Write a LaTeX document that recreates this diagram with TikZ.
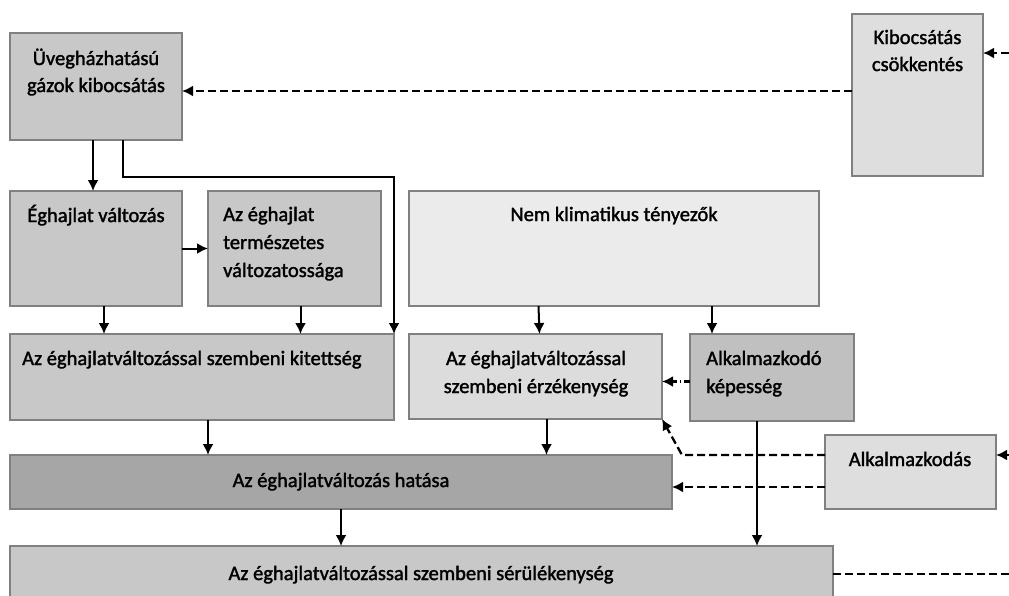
\documentclass[tikz,border=0pt]{standalone}
\usepackage{fontspec}
\setmainfont{Carlito}
\newfontfamily\diagfont{Carlito}[FakeBold=1.6]
\usetikzlibrary{arrows.meta,calc}
\definecolor{boxline}{RGB}{128,128,128}
\definecolor{gA}{RGB}{200,200,200}
\definecolor{gB}{RGB}{222,222,222}
\definecolor{gC}{RGB}{235,235,235}
\definecolor{gD}{RGB}{220,220,220}
\definecolor{gE}{RGB}{192,192,192}
\definecolor{gF}{RGB}{166,166,166}
\tikzset{
  box/.style={rectangle, draw=boxline, line width=1.8pt, inner sep=0pt, outer sep=0pt, anchor=north west},
  txt/.style={font=\diagfont\fontsize{20.5}{28}\selectfont, inner sep=0pt, anchor=base},
  ltxt/.style={txt, anchor=base west},
  arr/.style={line width=2pt, -{Latex[length=11pt,width=11pt]}},
  darr/.style={line width=2.3pt, dash pattern=on 8pt off 4pt, -{Latex[length=11pt,width=11pt]}},
  ddarr/.style={line width=2.3pt, dash pattern=on 6pt off 3pt on 1.5pt off 3pt, -{Latex[length=11pt,width=11pt]}},
  dline/.style={line width=2.3pt, dash pattern=on 8pt off 4pt},
}
\begin{document}
\begin{tikzpicture}[x=1pt, y=-1pt]
\useasboundingbox (0,0) rectangle (1009,595);
\clip (0,0) rectangle (1009,595);

% boxes
\node[box, fill=gA, minimum width=172pt, minimum height=107pt] (uveg) at (10,33) {};
\node[box, fill=gB, minimum width=131pt, minimum height=162pt] (kib) at (852,14) {};
\node[box, fill=gA, minimum width=172pt, minimum height=115pt] (valt) at (10,191) {};
\node[box, fill=gA, minimum width=173pt, minimum height=115pt] (term) at (208,191) {};
\node[box, fill=gC, minimum width=410pt, minimum height=115pt] (nem) at (409,191) {};
\node[box, fill=gA, minimum width=384pt, minimum height=86pt] (kit) at (10,334) {};
\node[box, fill=gD, minimum width=253pt, minimum height=85pt] (erz) at (409,334) {};
\node[box, fill=gE, minimum width=164pt, minimum height=87pt] (kep) at (690,334) {};
\node[box, fill=gB, minimum width=171pt, minimum height=74pt] (alk) at (825,435) {};
\node[box, fill=gF, minimum width=662pt, minimum height=54pt] (hat) at (10,455) {};
\node[box, fill=gA, minimum width=823pt, minimum height=70pt] (bot) at (10,546) {};

% texts
\node[txt] (uveg1) at (96,65) {Üvegházhatású};
\node[txt] (uveg2) at (96,92) {gázok kibocsátás};
\node[txt] (kib1) at (917.5,44) {Kibocsátás};
\node[txt] (kib2) at (917.5,71) {csökkentés};
\node[txt] (valt1) at (96,222) {Éghajlat változás};
\node[ltxt] (term1) at (223,221) {Az éghajlat};
\node[ltxt] (term2) at (223,249) {természetes};
\node[ltxt] (term3) at (223,277) {változatossága};
\node[txt] (nem1) at (614,221) {Nem klimatikus tényezők};
\node[ltxt] (kit1) at (22,365) {Az éghajlatváltozással szembeni kitettség};
\node[txt] (erz1) at (536,365) {Az éghajlatváltozással};
\node[txt] (erz2) at (536,393) {szembeni érzékenység};
\node[ltxt] (kep1) at (706,365) {Alkalmazkodó};
\node[ltxt] (kep2) at (706,393) {képesség};
\node[txt] (alk1) at (910,466) {Alkalmazkodás};
\node[txt] (hat1) at (341,487) {Az éghajlatváltozás hatása};
\node[txt] (bot1) at (421,580) {Az éghajlatváltozással szembeni sérülékenység};

% free ends at the right margin
\coordinate (kibin) at (1009,53);
\coordinate (alkin) at (1009,455);
\coordinate (botout) at (1009,574);
\coordinate (bend) at (682,455);

% solid connectors
\draw[arr] ([xshift=-3pt]uveg.south) -- ([xshift=-3pt]uveg.south |- valt.north);
\draw[arr] ([xshift=27pt]uveg.south) -- ++(0,37) -| (kit.north east);
\draw[arr] (valt.east) -- (term.west);
\draw[arr] ([xshift=8pt]valt.south) -- ([xshift=8pt]valt.south |- kit.north);
\draw[arr] ([xshift=6pt]term.south) -- ([xshift=6pt]term.south |- kit.north);
\draw[arr] ([xshift=3pt]erz.north |- nem.south) -- ([xshift=4pt]erz.north);
\draw[arr] ([xshift=-60pt]kep.north |- nem.south) -- ([xshift=-60pt]kep.north);
\draw[arr] ([xshift=6pt]kit.south) -- ([xshift=6pt]kit.south |- hat.north);
\draw[arr] ([xshift=11pt]erz.south) -- ([xshift=11pt]erz.south |- hat.north);
\draw[arr] (hat.south) -- (hat.south |- bot.north);
\draw[arr] ([xshift=-15pt]kep.south) -- ([xshift=-15pt]kep.south |- bot.north);

% dashed connectors
\draw[darr] ([yshift=-4.5pt]uveg.east -| kib.west) -- ([yshift=-4.5pt]uveg.east);
\draw[darr] (kibin) -- (kibin -| kib.east);
\draw[darr] (alkin) -- (alkin -| alk.east);
\draw[darr] ([yshift=17pt]alk.west) -- (bend) -- (erz.south east);
\draw[darr] ([yshift=-15pt]alk.west) -- ([yshift=-15pt]alk.west -| hat.east);
\draw[ddarr] ([yshift=-4pt]kep.west) -- ([yshift=-4pt]kep.west -| erz.east);
\draw[dline] (botout -| bot.east) -- (botout);
\end{tikzpicture}
\end{document}
